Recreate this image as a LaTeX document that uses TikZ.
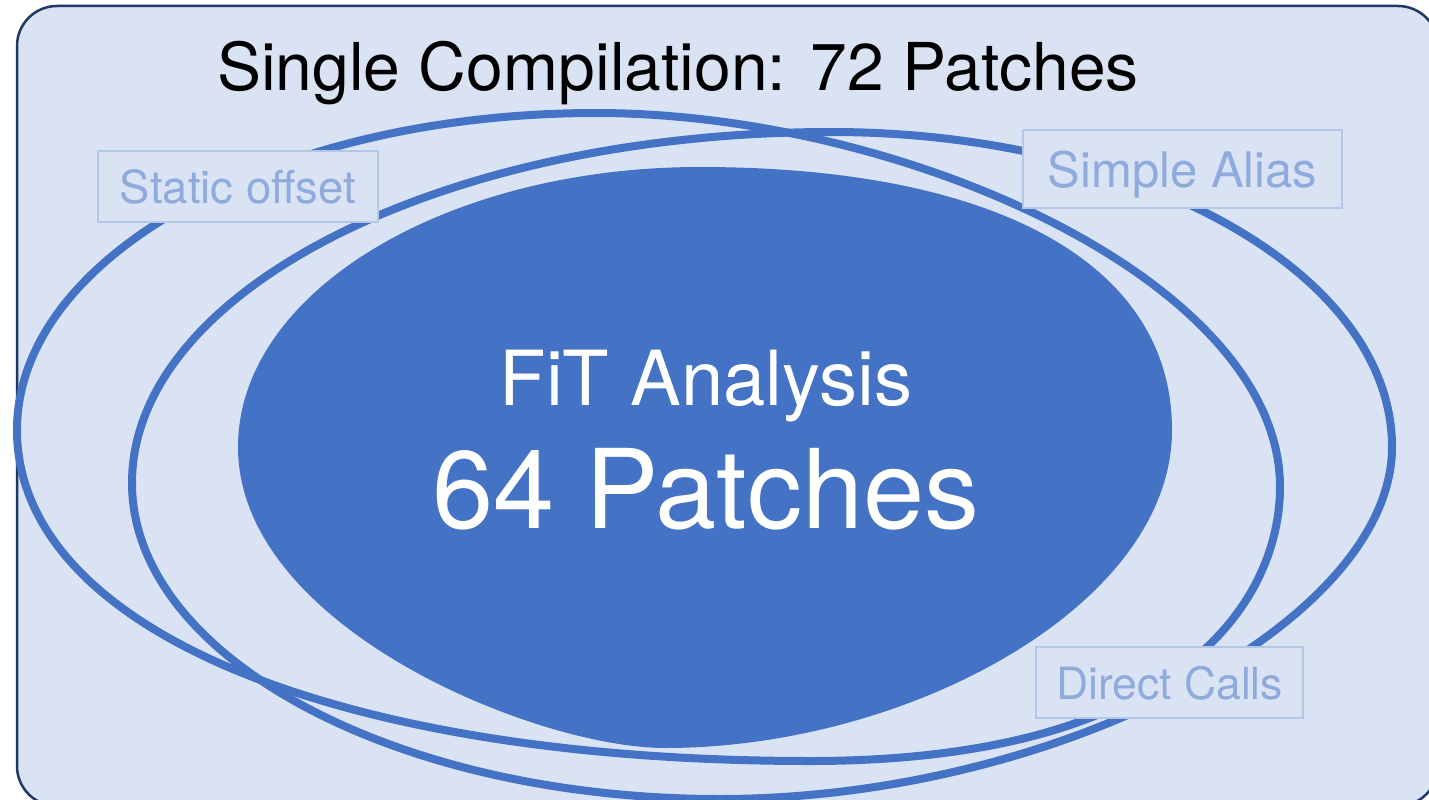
\documentclass[tikz,border=0pt]{standalone}
\usepackage{fontspec}
\setmainfont{TeX Gyre Heros}
\definecolor{panelfill}{HTML}{DAE3F3}
\definecolor{panelline}{HTML}{203864}
\definecolor{accent}{HTML}{4472C4}
\definecolor{tagline}{HTML}{B4C7E7}
\definecolor{tagtext}{HTML}{8FAADC}
\tikzset{
  panel/.style={fill=panelfill, draw=panelline, line width=2.5pt, rounded corners=40pt},
  core/.style={fill=accent},
  ring/.style={draw=accent, line width=8pt, line join=round},
  tag/.style={draw=tagline, fill=panelfill, line width=1.5pt, text=tagtext,
              inner sep=0pt, text depth=0pt},
}
\begin{document}
\begin{tikzpicture}[x=1pt,y=-1pt]
\useasboundingbox (0,0) rectangle (1429,800);

% background panel, running off the right and bottom edges
\begin{scope}
  \clip (0,0) rectangle (1429,800);
  \draw[panel] (17,6) rectangle (1438,806);
\end{scope}

% filled core region: four quarter curves between its extreme points
\fill[core] (238,447)
  .. controls (238,292.4) and (445,167) .. (700,167)
  .. controls (997.4,167) and (1172,264.3) .. (1172,430)
  .. controls (1172,605.5) and (908.4,748) .. (665,748)
  .. controls (536.9,748) and (238,627.6) .. (238,447) -- cycle;

% first outline ring
\draw[ring] (17,430)
  .. controls (17,255) and (276.4,113) .. (596,113)
  .. controls (903.8,113) and (1280,281.3) .. (1280,487)
  .. controls (1280,596.6) and (1186,761) .. (810,761)
  .. controls (334.2,761) and (17,628.6) .. (17,430) -- cycle;

% second outline ring
\draw[ring] (132,483)
  .. controls (132,289.2) and (445.2,132) .. (831,132)
  .. controls (1140.7,132) and (1392,273.1) .. (1392,447)
  .. controls (1392,623) and (1056,799) .. (720,799)
  .. controls (395.4,799) and (132,657.4) .. (132,483) -- cycle;

% category tags
\node[tag, minimum width=280pt, minimum height=71pt, text height=33pt,
      font=\fontsize{45.5}{45.5}\selectfont] (static) at (238,186.5) {Static offset};
\node[tag, minimum width=319pt, minimum height=78pt, text height=36pt,
      font=\fontsize{49}{49}\selectfont] (alias) at (1182.5,169) {Simple Alias};
\node[tag, minimum width=267pt, minimum height=71pt, text height=33pt,
      font=\fontsize{44.5}{44.5}\selectfont] (calls) at (1169.5,682.5) {Direct Calls};

% headings
\node[anchor=base, text=black, inner sep=0pt, font=\fontsize{66}{66}\selectfont]
  (title) at (678,90) {Single Compilation: 72 Patches};
\node[anchor=base, text=white, inner sep=0pt, font=\fontsize{76}{76}\selectfont]
  (fit) at (706,405) {FiT Analysis};
\node[anchor=base, text=white, inner sep=0pt, font=\fontsize{110}{110}\selectfont]
  (count) at (706,528) {64 Patches};
\end{tikzpicture}
\end{document}
